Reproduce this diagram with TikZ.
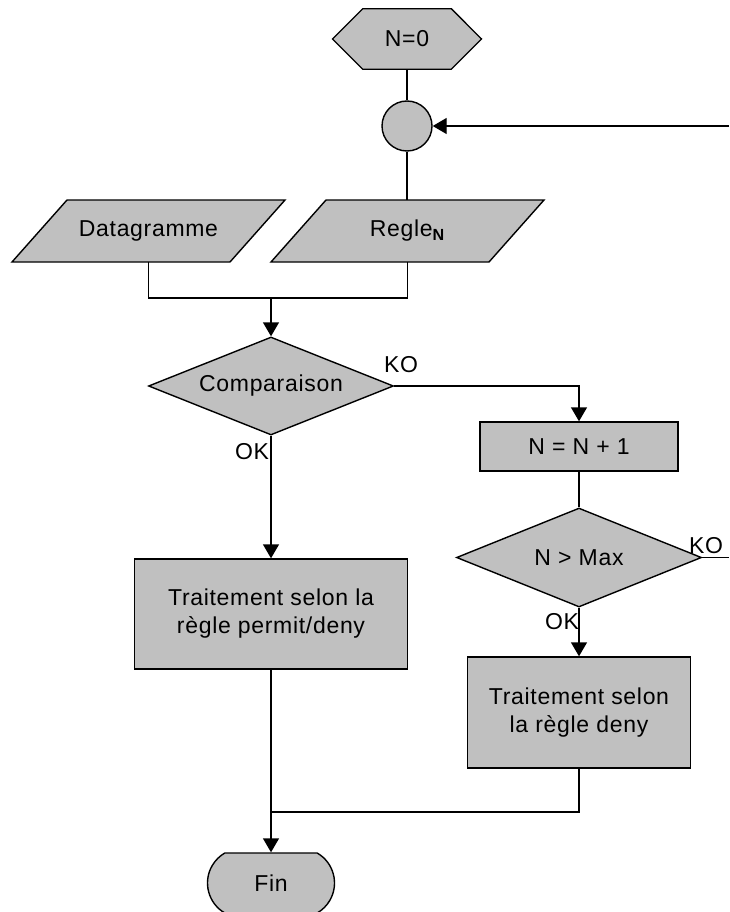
\documentclass[tikz,border=0pt]{standalone}
\usepackage{fontspec}
\setmainfont{Liberation Sans}[LetterSpace=3]
\usetikzlibrary{shapes.geometric,shapes.misc,arrows.meta}
\definecolor{boxgray}{HTML}{C0C0C0}
\begin{document}
\begin{tikzpicture}[x=1pt,y=-1pt,
  every node/.style={font=\fontsize{23}{28}\selectfont, text=black},
  shp/.style={draw=black, fill=boxgray, line width=1.4pt, inner sep=0pt},
  txt/.style={inner sep=0pt},
  wire/.style={line width=1.4pt},
  arr/.style={wire, -{Triangle[width=16pt,length=14pt]}},
  lbl/.style={inner sep=0pt}]
\useasboundingbox (0,0) rectangle (729,912);

% parallelogram outlines (data shapes)
\path[shp] (12,262) -- (230,262) -- (285,200) -- (67,200) -- cycle;
\path[shp] (271,262) -- (489,262) -- (544,200) -- (326,200) -- cycle;

\node[shp, chamfered rectangle, chamfered rectangle xsep=27pt, chamfered rectangle ysep=24pt,
      minimum width=149pt, minimum height=48pt] (hex) at (407,39) {N=0};
\node[shp, circle, minimum size=50pt] (circ) at (407,126) {};
\node[txt, minimum width=273pt, minimum height=62pt] (dg) at (148.5,231) {Datagramme};
\node[txt, minimum width=273pt, minimum height=62pt] (rg) at (407.5,231) {Regle\textsubscript{\textbf{N}}};
\node[shp, diamond, aspect=2.5, minimum width=245pt, minimum height=98pt] (cmp) at (271,386) {Comparaison};
\node[shp, rectangle, minimum width=273pt, minimum height=110pt, align=center] (perm) at (271,614)
      {Traitement selon la\\règle permit/deny};
\node[shp, rectangle, minimum width=198pt, minimum height=49pt] (inc) at (579,446.5) {N = N + 1};
\node[shp, diamond, aspect=2.5, minimum width=245pt, minimum height=99pt] (max) at (579,557.5) {N > Max};
\node[shp, rectangle, minimum width=223pt, minimum height=111pt, align=center] (deny) at (579,712.5)
      {Traitement selon\\la règle deny};
\node[shp, rounded rectangle, rounded rectangle arc length=120, minimum width=127pt, minimum height=60pt]
      (fin) at (271,883) {Fin};

\coordinate (inR) at (729,126);
\coordinate (outR) at (729,557.5);
\coordinate (j1) at (271,298);
\coordinate (j2) at (271,812);

\draw[wire] (hex.south) -- (circ.north);
\draw[arr] (inR) -- (circ.east);
\draw[wire] (circ.south) -- (circ.south |- rg.north);
\draw[wire] (dg.south) |- (j1) -| (rg.south);
\draw[arr] (j1) -- (cmp.north);
\draw[arr] (cmp.east) -| (inc.north);
\draw[arr] (cmp.south) -- (perm.north);
\draw[wire] (inc.south) -- (max.north);
\draw[wire] (max.east) -- (outR);
\draw[arr] (max.south) -- (deny.north);
\draw[wire] (deny.south) |- (j2);
\draw[arr] (perm.south) -- (fin.north);

\node[lbl] (ko1) at (401,365) {KO};
\node[lbl] (ok1) at (252,452) {OK};
\node[lbl] (ko2) at (706,546) {KO};
\node[lbl] (ok2) at (562,622) {OK};
\end{tikzpicture}
\end{document}
